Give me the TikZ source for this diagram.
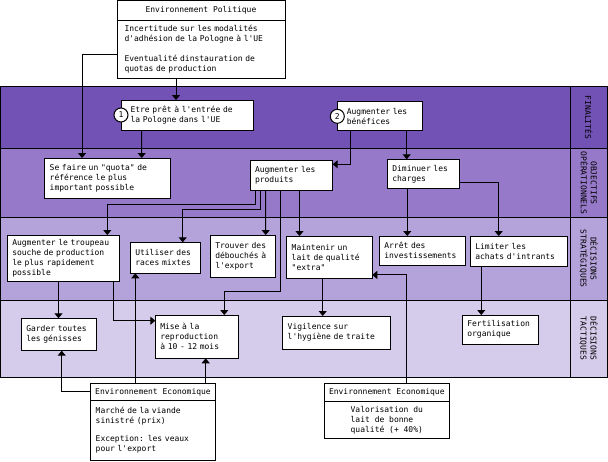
\documentclass[tikz,border=0pt]{standalone}
\usepackage{fontspec}
\newfontfamily\mono{DejaVu Sans Mono}
\usepackage{tikz}
\usetikzlibrary{arrows.meta,positioning,calc}

\definecolor{finalite}{HTML}{7352B5}
\definecolor{objectif}{HTML}{9679C9}
\definecolor{strategie}{HTML}{B4A2DA}
\definecolor{tactique}{HTML}{D5CBEA}

\begin{document}
\begin{tikzpicture}[x=1pt, y=-1pt, line width=1pt,
  txt/.style={font=\mono\fontsize{8}{10}\selectfont},
  boite/.style={txt, draw, fill=white, align=left, outer sep=0pt,
    inner xsep=5pt, inner ysep=2pt},
  entete/.style={txt, draw, fill=white, align=center, outer sep=0pt,
    inner sep=0pt},
  numero/.style={txt, draw, circle, fill=white, inner sep=0pt,
    minimum size=14pt},
  niveau/.style={txt, rotate=-90, align=center},
  fleche/.style={-{Triangle[width=8pt,length=5pt]}}]
\useasboundingbox (0,0) rectangle (608,461);

% bandes
\fill[finalite] (0.5,86.7) rectangle (607,148.3);
\fill[objectif] (0.5,148.3) rectangle (607,217.7);
\fill[strategie] (0.5,217.7) rectangle (607,300);
\fill[tactique] (0.5,300) rectangle (607,377);
\draw (0.5,86.7) rectangle (607,377);
\foreach \y in {148.3,217.7,300}
  \draw (0.5,\y) -- (607,\y);
\draw (570.7,86.7) -- (570.7,377);

\node[niveau] (niv1) at (588.8,117.5) {FINALITÉS};
\node[niveau] (niv2) at (588.8,183) {OBJECTIFS\\OPÉRATIONNELS};
\node[niveau] (niv3) at (588.8,258.8) {DÉCISIONS\\STRATÉGIQUES};
\node[niveau] (niv4) at (588.8,338.5) {DÉCISIONS\\TACTIQUES};

% environnement
\node[entete, minimum width=168pt, minimum height=20.2pt]
  (envpolh) at (201,10.6) {Environnement Politique};
\node[boite, inner xsep=7.5pt, text width=153pt, minimum height=57.3pt,
  below=0pt of envpolh] (envpol)
  {Incertitude sur les modalités\\d'adhésion de la Pologne à l'UE\\[10pt]
   Eventualité dinstauration de\\quotas de production};

\node[entete, minimum width=124.6pt, minimum height=16.3pt]
  (eco1h) at (153,391.85) {Environnement Economique};
\node[boite, inner xsep=5pt, text width=114.6pt, minimum height=60.7pt,
  below=0pt of eco1h] (eco1)
  {Marché de la viande\\sinistré (prix)\\[8pt]
   Exception: les veaux\\pour l'export};

\node[entete, minimum width=125pt, minimum height=18.4pt]
  (eco2h) at (386.8,392.5) {Environnement Economique};
\node[boite, minimum width=125pt, minimum height=36.6pt,
  below=0pt of eco2h] (eco2)
  {Valorisation du\\lait de bonne\\qualité (+ 40\%)};

% finalites
\node[boite, inner xsep=9.5pt, text width=113pt, minimum height=30pt]
  (etape1) at (187,115) {Etre prêt à l'entrée de\\la Pologne dans l'UE};
\node[boite, inner xsep=9.5pt, text width=66pt, minimum height=29.3pt]
  (etape2) at (379.8,116.3) {Augmenter les\\bénéfices};
\node[numero] (num1) at (etape1.west) {1};
\node[numero] (num2) at (etape2.west) {2};

% objectifs operationnels
\node[boite, text width=115.3pt, minimum height=40.3pt]
  (quota) at (107.35,178.15)
  {Se faire un "quota" de\\référence le plus\\important possible};
\node[boite, text width=72.7pt, minimum height=30.4pt]
  (produits) at (291.35,175.5) {Augmenter les\\produits};
\node[boite, text width=62pt, minimum height=29pt]
  (charges) at (423.3,173.8) {Diminuer les\\charges};

% decisions strategiques
\node[boite, text width=102pt, minimum height=46.7pt]
  (troupeau) at (63.3,258.35)
  {Augmenter le troupeau\\souche de production\\le plus rapidement\\possible};
\node[boite, text width=60.4pt, minimum height=31pt]
  (races) at (165.5,257.8) {Utiliser des\\races mixtes};
\node[boite, text width=55.4pt, minimum height=42.3pt]
  (export) at (243,256.15) {Trouver des\\débouchés à\\l'export};
\node[boite, text width=75.6pt, minimum height=42.7pt]
  (qualite) at (329.5,257.35) {Maintenir un\\lait de qualité\\"extra"};
\node[boite, text width=76pt, minimum height=29.3pt]
  (invest) at (422.3,250.65) {Arrêt des\\investissements};
\node[boite, text width=87pt, minimum height=30.3pt]
  (intrants) at (518.8,251.15) {Limiter les\\achats d'intrants};

% decisions tactiques
\node[boite, text width=65.4pt, minimum height=32.4pt]
  (genisses) at (59,334.5) {Garder toutes\\les génisses};
\node[boite, text width=73.4pt, minimum height=43.3pt]
  (repro) at (197,336.65) {Mise à la\\reproduction\\à 10 - 12 mois};
\node[boite, text width=98pt, minimum height=33.3pt]
  (hygiene) at (336.7,332.65) {Vigilence sur\\l'hygiène de traite};
\node[boite, text width=66pt, minimum height=29.3pt]
  (fertil) at (500.3,329.65) {Fertilisation\\organique};

% liens
\draw[fleche] ([xshift=-25pt]envpol.south) -- ([xshift=-11pt]etape1.north);
\draw[fleche] ([yshift=-5.6pt]envpol.west) -| ([xshift=-25.3pt]quota.north);
\draw[fleche] ([xshift=-45.3pt]etape1.south) -- ([xshift=34.35pt]quota.north);
\draw[fleche] ([xshift=-29.1pt]etape2.south) |- ([yshift=11.2pt]produits.east);
\draw[fleche] ([xshift=26.9pt]etape2.south) -- ([xshift=-16.6pt]charges.north);
\draw[fleche] ([xshift=-16pt]charges.south) -- ([xshift=-15pt]invest.north);
\draw[fleche] ([yshift=-8.5pt]charges.east) -| ([xshift=-20.1pt]intrants.north);
\draw[fleche] ([xshift=-37.5pt]intrants.south) -- ([xshift=-19pt]fertil.north);
\draw[fleche] ([xshift=-35.65pt]produits.south) -- ++(0,13.6)
  -| ([xshift=44pt]troupeau.north);
\draw[fleche] ([xshift=-30.65pt]produits.south) -- ++(0,18.6)
  -| ([xshift=17.2pt]races.north);
\draw[fleche] ([xshift=-25.65pt]produits.south) -- ([xshift=22.7pt]export.north);
\draw[fleche] ([xshift=-11.35pt]produits.south) -- ++(0,101)
  -| ([xshift=27.3pt]repro.north);
\draw[fleche] ([xshift=8.15pt]produits.south) -- ([xshift=-30pt]qualite.north);
\draw[fleche] ([xshift=-6.8pt]qualite.south) -- ([xshift=-14pt]hygiene.north);
\draw[fleche] ([xshift=19.9pt]eco2h.north) |- ([yshift=-17.6pt]qualite.east);
\draw[fleche] ([xshift=-4.8pt]troupeau.south) -- ([xshift=-0.5pt]genisses.north);
\draw[fleche] ([xshift=50.4pt]troupeau.south) |- ([yshift=15.9pt]repro.west);
\draw[fleche] ([xshift=-17.7pt]eco1h.north) -- ([xshift=-30.2pt]races.south);
\draw[fleche] (eco1h.west) -| ([xshift=2.7pt]genisses.south);
\draw[fleche] ([xshift=52.7pt]eco1h.north) -- ([xshift=8.7pt]repro.south);
\end{tikzpicture}
\end{document}
